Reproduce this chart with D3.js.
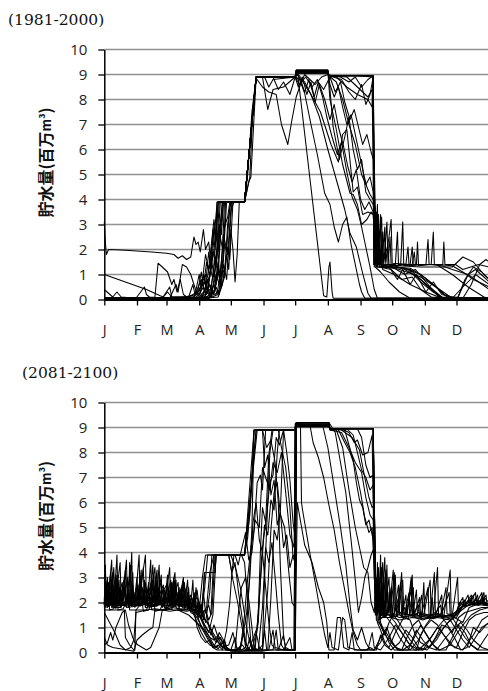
<!DOCTYPE html>
<html><head><meta charset="utf-8">
<script src="https://cdn.jsdelivr.net/npm/d3@7"></script>
<style>body{margin:0;background:#fff}</style>
</head><body><svg id="c" width="488" height="691"></svg>
<script>
const months = ["J","F","M","A","M","J","J","A","S","O","N","D"];
const monthStartDays = [0,31,59,90,120,151,181,212,243,273,304,334];
const yTicks = [0,1,2,3,4,5,6,7,8,9,10];
const panelTitles = ["(1981-2000)","(2081-2100)"];
const yLabelMain = "貯水量(百万";
const yLabelUnit = "m³";

// ---- 1981-2000: [day of year, storage (million m3)] ----
const t01 = [[0,3.1],[1,2.3],[2,1.8],[4,2.0],[20,1.97],[45,1.9],[59,1.85],[66,1.8],[70,1.65],[74,1.75],[78,1.6],[82,1.7],[85,2.5],[87,2.2],[89,2.3],[91,1.9],[94,2.8],[96,2.0],[99,2.3],[101,1.5],[104,2.9],[106,2.6],[108,3.9],[133,3.9],[136,5.0],[140,7.5],[144,8.9],[181,8.9],[182,9.1],[212,9.1],[213,8.95],[255,8.95],[256,5.0],[257,1.5],[259,3.8],[260,1.6],[262,3.4],[263,1.5],[266,2.9],[267,1.5],[272,3.2],[273,1.45],[290,1.4],[292,2.1],[293,1.4],[315,1.4],[330,1.35],[340,1.1],[350,0.8],[365,0.5]];
const t02 = [[0,1.0],[20,0.7],[40,0.4],[53,0.15],[56,0.1],[60,0.3],[64,0.1],[80,0.1],[88,0.3],[92,0.1],[98,0.5],[100,0.2],[104,1.2],[106,0.6],[110,2.5],[113,1.8],[116,3.9],[133,3.9],[144,8.9],[150,8.9],[155,7.6],[160,8.4],[170,8.5],[181,8.9],[182,9.05],[212,9.05],[213,8.95],[240,8.95],[255,8.9],[256,1.4],[258,2.5],[259,1.3],[275,1.3],[290,1.2],[300,0.8],[320,0.1],[365,0.05]];
const t03 = [[0,0.4],[4,0.25],[8,0.1],[12,0.3],[16,0.1],[30,0.05],[38,0.5],[40,0.2],[44,0.05],[62,0.05],[68,0.6],[70,0.3],[74,1.4],[78,1.3],[82,1.0],[85,0.6],[88,0.2],[92,0.6],[96,1.0],[98,0.3],[102,0.1],[108,0.2],[112,1.2],[114,2.9],[117,3.3],[119,3.9],[133,3.9],[137,4.7],[139,4.9],[144,8.9],[181,8.9],[184,9.0],[190,8.7],[196,8.2],[205,7.5],[215,6.2],[222,5.5],[226,6.6],[230,6.8],[236,4.3],[240,4.5],[245,3.4],[250,3.5],[255,3.4],[258,1.3],[262,1.8],[264,1.2],[275,1.0],[290,0.6],[305,0.3],[320,0.05],[365,0.05]];
const t04 = [[0,0.05],[30,0.05],[48,0.1],[51,1.45],[55,1.3],[60,1.1],[64,0.6],[66,0.8],[69,0.3],[72,0.8],[75,0.2],[80,0.05],[95,0.1],[100,0.4],[104,0.3],[108,1.5],[110,0.9],[113,2.6],[116,2.0],[119,3.7],[121,3.9],[133,3.9],[144,8.85],[150,8.5],[156,8.3],[163,8.2],[168,7.0],[174,6.2],[178,7.2],[182,8.1],[186,8.6],[190,9.0],[200,8.6],[206,8.9],[212,9.0],[220,8.9],[230,8.5],[240,8.2],[250,8.0],[254,7.7],[255,8.9],[256,1.4],[260,2.2],[261,1.4],[280,1.35],[300,1.3],[330,1.3],[340,1.7],[350,1.5],[360,1.0],[365,0.8]];
const t05 = [[0,0.05],[40,0.05],[85,0.1],[92,0.8],[95,0.3],[100,1.4],[103,0.8],[106,2.6],[108,1.9],[112,3.9],[133,3.9],[144,8.9],[181,8.9],[184,8.8],[208,0.15],[211,0.1],[213,1.3],[214,1.5],[216,0.3],[217,0.05],[255,0.05],[365,0.05]];
const t06 = [[0,0.05],[60,0.05],[80,0.1],[84,0.6],[86,0.2],[90,1.0],[92,0.4],[96,1.8],[99,1.2],[102,2.4],[104,3.2],[106,2.4],[108,3.9],[133,3.9],[144,8.9],[181,8.9],[182,9.15],[186,8.7],[190,8.25],[196,7.0],[202,5.8],[209,4.25],[214,3.8],[218,2.9],[222,2.3],[226,3.0],[230,3.3],[234,2.2],[238,1.4],[242,0.6],[244,0.3],[247,0.05],[365,0.05]];
const t07 = [[0,0.05],[70,0.05],[88,0.2],[92,1.1],[94,0.5],[97,1.5],[100,0.9],[103,2.8],[105,2.0],[107,3.9],[133,3.9],[144,8.9],[181,8.9],[182,9.1],[212,9.1],[214,8.0],[220,6.8],[226,5.4],[233,4.25],[236,4.2],[240,3.8],[244,3.0],[249,3.2],[253,3.5],[256,3.4],[258,1.5],[260,2.8],[261,1.4],[280,1.2],[300,0.9],[318,0.4],[330,0.05],[365,0.05]];
const t08 = [[0,0.05],[75,0.05],[90,0.1],[96,0.4],[100,1.0],[103,1.9],[106,1.4],[109,3.0],[111,2.6],[113,3.9],[133,3.9],[144,8.9],[181,8.9],[183,9.0],[190,8.6],[196,8.2],[204,7.3],[212,6.0],[220,4.8],[228,3.6],[233,2.65],[239,2.1],[245,1.05],[250,0.25],[253,0.05],[365,0.05]];
const t09 = [[0,0.05],[80,0.05],[95,0.1],[100,0.6],[104,0.2],[108,1.1],[111,0.5],[114,2.2],[117,1.8],[120,3.6],[123,3.9],[133,3.9],[144,8.9],[181,8.9],[182,9.18],[212,9.18],[213,8.9],[217,6.9],[223,5.6],[228,6.5],[232,7.3],[236,6.0],[240,5.2],[244,5.6],[248,4.3],[252,4.0],[255,3.8],[257,2.9],[258,1.4],[262,2.0],[263,1.3],[285,1.25],[300,1.0],[315,0.5],[325,0.1],[365,0.05]];
const t10 = [[0,0.05],[85,0.05],[100,0.1],[105,0.4],[108,1.2],[110,0.6],[113,1.8],[115,3.9],[133,3.9],[144,8.9],[181,8.9],[182,9.05],[212,9.05],[213,8.95],[225,8.8],[232,8.3],[238,8.0],[244,8.6],[248,7.8],[252,8.2],[255,8.9],[256,5.0],[257,1.45],[258,3.5],[259,1.4],[263,3.3],[264,1.4],[269,2.2],[270,1.4],[281,1.35],[283,3.1],[284,1.35],[296,1.4],[297,2.3],[298,1.35],[310,1.4],[312,2.7],[313,1.4],[321,1.4],[322,2.3],[323,1.4],[333,1.4],[340,1.2],[355,1.4],[365,1.3]];
const t11 = [[0,0.05],[90,0.05],[105,0.2],[110,0.4],[114,0.9],[117,2.1],[119,1.6],[122,3.9],[133,3.9],[144,8.9],[181,8.9],[182,9.12],[212,9.12],[213,8.95],[220,8.7],[226,8.0],[232,7.0],[238,6.2],[244,5.0],[248,4.6],[252,4.9],[255,4.3],[257,1.4],[258,2.6],[259,1.3],[275,1.25],[285,1.0],[295,1.2],[305,0.7],[315,0.2],[320,0.05],[365,0.05]];
const t12 = [[0,0.05],[95,0.05],[108,0.1],[112,0.6],[116,1.8],[118,1.2],[120,2.8],[122,2.0],[124,0.7],[126,1.8],[128,3.9],[133,3.9],[144,8.9],[181,8.9],[182,9.15],[212,9.15],[213,8.95],[255,8.95],[256,1.4],[259,3.0],[260,1.4],[266,2.5],[267,1.4],[276,1.4],[278,2.7],[279,1.4],[292,1.4],[294,1.9],[295,1.4],[315,1.4],[330,1.0],[345,0.5],[360,0.1],[365,0.05]];
const t13 = [[0,0.05],[55,0.05],[62,0.5],[64,0.1],[85,0.1],[95,0.7],[98,0.3],[102,1.5],[104,0.9],[108,2.2],[110,3.0],[112,3.9],[133,3.9],[138,4.9],[141,7.7],[144,8.9],[181,8.9],[182,9.08],[212,9.08],[213,8.95],[255,8.95],[256,1.4],[258,3.3],[259,1.4],[262,3.0],[263,1.4],[275,1.35],[285,1.2],[300,0.8],[310,0.4],[320,0.05],[335,0.05],[345,1.0],[352,1.2],[360,0.9],[365,0.7]];
const t14 = [[0,0.05],[100,0.05],[106,0.5],[109,0.2],[113,1.4],[116,0.8],[119,2.7],[121,3.9],[133,3.9],[144,8.9],[181,8.9],[182,9.18],[212,9.18],[213,8.95],[255,8.95],[256,1.4],[261,2.7],[262,1.4],[270,1.3],[278,0.8],[283,1.2],[290,0.6],[296,1.0],[305,0.3],[312,0.7],[320,0.2],[335,0.05],[342,0.8],[350,1.3],[358,1.1],[365,0.8]];
const t15 = [[0,0.05],[92,0.05],[97,0.3],[101,0.1],[104,0.8],[107,1.7],[110,3.9],[133,3.9],[144,8.9],[181,8.9],[182,9.1],[212,9.1],[213,8.95],[230,8.9],[240,8.5],[250,8.1],[254,8.4],[256,1.3],[257,3.7],[258,1.4],[260,3.4],[261,1.35],[264,2.7],[265,1.4],[268,3.1],[269,1.4],[271,2.5],[272,1.35],[286,1.4],[288,2.1],[289,1.35],[305,1.4],[307,2.4],[308,1.4],[320,1.35],[330,1.2],[345,1.0],[365,0.4]];
const t16 = [[0,0.05],[88,0.05],[94,0.5],[97,0.2],[101,1.2],[104,2.0],[106,1.5],[109,3.9],[133,3.9],[144,8.9],[160,8.9],[165,8.4],[170,8.7],[176,8.2],[181,8.9],[184,8.5],[188,8.9],[192,8.2],[196,8.7],[200,7.9],[204,8.6],[209,8.0],[214,7.2],[218,7.8],[222,6.9],[227,6.1],[231,5.3],[235,4.7],[239,5.2],[243,4.0],[247,3.6],[251,3.9],[255,3.5],[257,1.3],[262,1.1],[270,0.7],[280,0.3],[290,0.05],[365,0.05]];
const t17 = [[0,0.05],[96,0.05],[102,0.3],[106,1.0],[109,0.6],[112,2.0],[114,3.9],[133,3.9],[144,8.9],[181,8.9],[186,8.8],[190,8.3],[194,8.8],[199,8.1],[203,8.7],[208,8.4],[214,8.9],[219,8.3],[224,8.7],[228,7.9],[233,7.2],[237,7.6],[241,6.9],[245,6.2],[249,6.6],[253,5.9],[256,5.5],[258,1.4],[260,2.6],[261,1.3],[272,1.2],[282,0.8],[292,0.9],[300,0.4],[310,0.1],[330,0.05],[340,0.5],[352,1.0],[365,0.6]];
const t18 = [[0,0.05],[84,0.05],[90,0.4],[93,0.1],[98,0.8],[101,0.4],[105,1.6],[108,1.0],[111,3.1],[113,3.9],[133,3.9],[144,8.9],[181,8.9],[185,8.6],[191,8.9],[197,8.5],[202,8.8],[207,8.1],[211,7.3],[216,6.5],[221,5.8],[225,6.3],[230,5.1],[235,4.1],[240,3.6],[244,2.9],[248,2.1],[252,1.3],[256,0.4],[259,0.05],[365,0.05]];
const t19 = [[0,0.05],[99,0.05],[104,0.6],[107,0.2],[111,1.4],[114,1.0],[117,3.0],[120,3.9],[133,3.9],[144,8.9],[152,8.9],[156,8.5],[160,8.8],[181,8.9],[182,9.06],[212,9.06],[214,8.6],[218,8.1],[222,8.5],[226,7.7],[230,7.0],[234,7.4],[238,6.6],[242,5.8],[246,5.0],[249,4.5],[252,4.2],[255,4.0],[257,1.4],[259,3.4],[260,1.4],[275,1.3],[290,1.25],[300,1.0],[312,0.6],[322,0.2],[330,0.05],[365,0.05]];
const t20 = [[0,0.05],[86,0.05],[91,0.3],[94,1.0],[96,0.6],[99,1.9],[101,1.2],[104,2.4],[107,3.9],[133,3.9],[144,8.9],[181,8.9],[182,9.16],[212,9.16],[213,8.95],[224,8.9],[232,8.7],[238,8.9],[244,8.5],[250,8.8],[255,8.95],[256,1.4],[258,2.1],[259,1.35],[268,1.3],[278,1.3],[288,1.2],[300,0.7],[312,0.3],[322,0.05],[340,0.05],[348,0.6],[356,1.4],[362,1.6],[365,1.5]];

// ---- 2081-2100 ----
const b01 = [[0,2.0],[1,3.5],[2,1.9],[4,2.8],[5,1.9],[8,2.4],[9,1.85],[12,3.9],[13,1.9],[16,2.5],[17,1.9],[20,3.3],[21,1.9],[24,2.2],[26,4.0],[27,1.9],[30,2.4],[31,1.85],[35,2.9],[36,1.9],[40,2.6],[41,1.9],[44,3.7],[45,1.95],[48,2.4],[49,1.9],[52,3.5],[53,2.0],[56,2.6],[57,1.9],[60,3.1],[61,2.0],[64,2.7],[65,1.9],[68,2.9],[69,1.95],[72,2.5],[73,1.9],[76,2.8],[77,1.9],[80,2.3],[82,1.9],[84,2.9],[85,1.8],[88,2.5],[90,1.8],[93,1.6],[95,3.2],[105,3.2],[106,3.9],[133,3.9],[145,8.9],[181,8.9],[182,9.1],[213,9.1],[214,8.95],[255,8.95],[257,3.2],[258,1.5],[259,3.6],[260,1.6],[262,3.9],[263,1.5],[265,3.0],[266,1.4],[268,3.5],[269,1.5],[272,2.6],[273,1.4],[276,3.1],[277,1.5],[281,2.8],[282,1.4],[286,2.3],[287,1.5],[291,3.0],[292,1.4],[296,2.5],[297,1.5],[301,1.4],[303,2.8],[304,1.5],[309,1.4],[311,2.2],[312,1.5],[316,3.4],[317,1.5],[322,1.45],[328,3.3],[329,1.5],[334,1.5],[336,1.9],[340,2.2],[341,1.9],[346,2.0],[350,2.3],[351,1.9],[356,2.0],[360,2.4],[361,1.9],[365,1.95]];
const b02 = [[0,1.8],[2,2.6],[3,1.8],[6,3.2],[7,1.8],[10,2.3],[11,1.75],[14,2.9],[15,1.8],[18,2.1],[22,3.0],[23,1.8],[28,2.4],[29,1.8],[33,3.9],[34,1.85],[38,2.3],[39,1.8],[42,2.8],[43,1.8],[47,3.1],[48,1.85],[51,2.2],[54,2.9],[55,1.8],[58,2.1],[62,3.4],[63,1.85],[66,2.3],[70,2.8],[71,1.8],[74,2.2],[78,2.6],[79,1.75],[83,2.2],[86,1.6],[89,1.9],[92,1.5],[96,1.3],[100,1.0],[104,0.6],[108,0.4],[112,0.2],[118,0.1],[125,0.1],[131,0.3],[134,0.1],[150,0.1],[152,0.9],[154,0.1],[165,0.1],[170,0.7],[172,0.1],[180,0.1],[181,9.15],[213,9.15],[214,8.9],[225,8.8],[232,8.2],[238,7.6],[244,7.2],[248,6.2],[252,5.5],[255,5.3],[257,3.1],[258,1.6],[260,3.3],[261,1.5],[264,2.4],[265,1.5],[270,3.0],[271,1.4],[275,1.6],[279,2.7],[280,1.5],[284,1.4],[289,2.4],[290,1.45],[294,1.5],[299,2.2],[300,1.45],[306,1.5],[314,1.45],[320,2.3],[321,1.4],[326,1.5],[332,1.45],[337,1.9],[342,2.1],[343,1.85],[348,1.9],[353,2.2],[354,1.9],[358,2.0],[362,2.3],[363,1.9],[365,1.9]];
const b03 = [[0,1.9],[1,2.9],[2,1.9],[5,2.4],[6,1.9],[9,3.4],[10,1.9],[13,2.2],[17,2.8],[18,1.9],[21,2.0],[25,3.5],[26,1.9],[29,2.2],[32,2.7],[33,1.9],[37,3.4],[38,1.95],[41,2.2],[45,2.9],[46,1.9],[50,3.3],[51,1.9],[55,2.4],[59,2.7],[60,1.9],[63,2.3],[67,3.2],[68,1.9],[71,2.6],[72,1.9],[75,2.9],[76,1.8],[79,2.4],[81,1.7],[85,1.9],[88,1.8],[91,1.75],[94,1.4],[98,1.2],[103,0.8],[107,0.5],[110,0.3],[115,0.15],[120,0.1],[124,0.6],[126,0.1],[129,0.1],[133,1.5],[136,3.0],[139,4.2],[142,4.9],[145,6.8],[148,7.1],[150,6.5],[153,8.9],[165,8.9],[168,8.2],[172,7.4],[176,5.8],[179,3.8],[181,3.6],[182,9.05],[213,9.05],[214,8.95],[255,8.95],[257,3.2],[258,2.0],[260,3.4],[261,1.6],[263,2.8],[264,1.7],[267,3.3],[268,1.6],[272,1.8],[275,3.2],[276,1.7],[279,1.6],[283,2.9],[284,1.6],[289,1.5],[293,2.6],[294,1.5],[298,1.6],[303,1.5],[309,2.9],[310,1.5],[314,1.6],[319,1.5],[324,2.6],[325,1.55],[330,1.5],[335,3.0],[336,1.6],[340,1.9],[345,2.3],[346,1.9],[352,2.1],[356,1.95],[360,2.2],[365,2.0]];
const b04 = [[0,2.1],[3,3.0],[4,2.0],[7,2.5],[8,2.0],[11,2.2],[15,3.6],[16,2.0],[19,2.6],[20,2.0],[23,2.5],[24,2.0],[27,3.2],[28,2.0],[31,2.1],[34,3.0],[35,2.0],[39,2.8],[40,2.0],[43,2.3],[46,2.6],[47,2.0],[49,3.0],[50,2.0],[53,2.4],[57,2.5],[58,2.0],[61,2.3],[64,2.8],[65,2.0],[69,2.4],[70,2.0],[73,2.6],[74,2.0],[77,2.5],[78,1.9],[81,2.2],[83,1.9],[86,2.4],[87,1.8],[90,2.0],[92,1.7],[94,2.4],[96,1.6],[99,1.9],[101,1.5],[104,3.9],[133,3.9],[138,5.5],[141,7.5],[144,8.9],[181,8.9],[182,9.2],[213,9.2],[214,8.95],[225,8.9],[235,8.6],[242,8.1],[247,7.0],[251,6.2],[254,5.8],[256,5.9],[258,1.5],[261,2.8],[262,1.4],[266,3.8],[267,1.4],[271,2.1],[272,1.4],[278,1.45],[282,3.2],[283,1.4],[288,1.35],[293,2.0],[294,1.4],[302,1.3],[308,1.4],[312,1.35],[318,1.45],[326,1.4],[334,1.5],[338,1.8],[344,1.95],[348,2.2],[349,1.9],[355,1.9],[359,2.3],[360,1.9],[365,1.85]];
const b05 = [[0,1.75],[4,2.3],[5,1.7],[9,1.75],[12,2.6],[13,1.7],[18,1.75],[23,2.3],[24,1.7],[30,1.7],[36,2.0],[37,1.65],[42,1.7],[47,2.2],[48,1.65],[53,1.7],[58,2.3],[59,1.7],[64,1.75],[70,2.2],[71,1.7],[76,1.75],[80,2.0],[82,1.6],[86,1.5],[88,1.0],[92,0.6],[96,0.4],[100,0.5],[104,0.2],[108,0.3],[112,0.1],[120,0.1],[128,0.05],[140,0.1],[144,0.8],[147,0.2],[150,0.1],[155,2.5],[158,4.9],[161,6.4],[164,6.8],[167,5.5],[171,5.0],[175,3.2],[178,2.0],[181,1.8],[182,9.12],[213,9.12],[214,8.95],[225,8.95],[232,8.8],[237,8.4],[240,8.5],[245,7.9],[250,8.0],[254,8.7],[256,3.0],[257,2.5],[259,1.2],[262,0.9],[266,0.4],[270,0.2],[276,0.8],[280,1.1],[284,1.4],[290,1.3],[295,0.7],[300,0.4],[308,0.2],[314,0.6],[320,1.1],[326,1.0],[332,0.6],[338,0.1],[344,0.2],[350,1.0],[356,0.8],[362,1.1],[365,1.2]];
const b06 = [[0,1.7],[19,1.7],[20,0.6],[24,0.3],[28,0.1],[29,0.1],[30,1.7],[40,1.7],[44,2.2],[45,1.7],[55,1.7],[60,1.8],[65,2.0],[70,1.7],[75,1.6],[80,1.5],[85,1.3],[90,1.1],[95,0.9],[100,0.6],[104,0.3],[108,0.15],[114,0.5],[116,0.2],[120,0.1],[128,0.1],[132,0.8],[134,0.2],[137,0.1],[145,1.0],[148,2.8],[151,4.5],[154,5.5],[157,6.8],[160,7.1],[163,8.6],[166,8.3],[170,8.9],[181,8.9],[182,9.08],[213,9.08],[214,8.95],[255,8.95],[257,1.6],[260,2.8],[261,1.6],[270,1.5],[276,1.2],[282,0.8],[288,0.4],[294,0.1],[302,0.1],[310,0.6],[316,1.0],[322,1.3],[330,1.4],[336,1.0],[342,0.6],[348,0.3],[355,0.1],[365,0.1]];
const b07 = [[0,0.6],[3,0.3],[8,0.2],[15,0.15],[22,0.1],[28,0.05],[31,0.5],[36,0.7],[42,0.9],[46,1.0],[48,1.7],[56,1.7],[60,1.75],[66,1.7],[72,1.7],[78,1.7],[82,1.8],[86,1.6],[90,1.5],[94,1.2],[98,0.9],[102,0.7],[106,0.4],[110,0.6],[114,0.3],[118,0.1],[135,0.1],[138,0.6],[140,0.1],[146,0.1],[150,0.3],[152,3.0],[155,6.0],[157,8.0],[160,8.9],[181,8.9],[182,9.18],[213,9.18],[214,8.95],[255,8.95],[257,2.8],[258,1.7],[262,1.5],[268,1.4],[275,1.0],[280,0.6],[285,0.3],[290,0.1],[296,0.1],[300,0.7],[305,1.1],[310,1.4],[318,1.5],[324,1.2],[330,0.8],[336,1.4],[342,1.6],[350,1.7],[358,1.8],[365,1.8]];
const b08 = [[0,0.3],[3,0.4],[6,0.8],[8,0.5],[11,1.0],[14,1.3],[17,1.6],[20,1.7],[23,1.1],[27,0.6],[29,0.4],[32,0.3],[36,0.2],[40,0.1],[44,0.2],[48,0.6],[52,1.0],[55,1.7],[62,1.65],[70,1.7],[78,1.65],[84,1.7],[88,1.5],[92,1.0],[96,0.7],[100,0.4],[103,0.2],[106,0.4],[109,0.8],[113,0.5],[116,0.2],[120,0.05],[150,0.05],[156,0.1],[160,0.9],[162,0.2],[170,0.1],[176,0.6],[178,0.1],[181,0.1],[183,6.0],[190,4.3],[197,3.6],[203,2.6],[208,2.0],[211,1.2],[213,0.1],[218,0.1],[221,1.4],[224,1.4],[227,0.2],[232,0.1],[235,0.8],[237,0.1],[248,0.1],[252,0.2],[256,0.1],[262,0.4],[266,0.9],[270,0.6],[276,0.2],[283,0.1],[290,0.3],[296,0.9],[302,0.5],[308,0.2],[315,0.1],[322,0.5],[330,0.9],[338,1.2],[344,0.9],[350,0.5],[358,0.2],[365,0.1]];
const b09 = [[0,1.9],[3,2.9],[4,1.9],[10,2.0],[14,2.6],[15,1.9],[25,1.95],[28,2.4],[29,1.9],[38,2.0],[42,2.6],[43,1.9],[53,1.95],[61,2.6],[62,1.9],[70,2.0],[74,2.7],[75,1.9],[82,1.8],[86,2.2],[88,1.7],[92,1.4],[95,3.2],[105,3.2],[106,3.9],[120,3.9],[125,3.3],[129,2.6],[132,1.8],[135,1.0],[138,0.4],[141,0.1],[160,0.1],[163,0.9],[165,0.1],[181,0.1],[182,9.1],[213,9.1],[214,8.9],[220,8.9],[226,8.2],[232,6.5],[238,5.0],[242,4.2],[246,3.4],[250,3.2],[253,2.0],[256,1.6],[258,3.0],[259,1.5],[263,3.4],[264,1.5],[268,1.5],[272,2.5],[273,1.5],[280,1.4],[287,1.45],[292,3.1],[293,1.45],[300,1.4],[307,2.6],[308,1.4],[315,1.45],[322,1.4],[328,1.5],[334,1.4],[340,1.85],[346,1.9],[352,2.4],[353,1.9],[365,1.9]];
const b10 = [[0,1.85],[2,2.4],[3,1.85],[7,3.7],[8,1.85],[14,1.9],[19,3.0],[20,1.85],[28,1.9],[31,3.0],[32,1.85],[39,3.9],[40,1.9],[50,1.85],[54,3.1],[55,1.85],[62,1.9],[66,2.4],[67,1.85],[76,1.9],[79,2.9],[80,1.85],[86,1.9],[89,1.4],[92,1.9],[96,1.2],[100,2.4],[102,3.9],[124,3.9],[127,3.5],[130,4.1],[134,4.8],[137,3.7],[140,4.0],[143,5.3],[147,5.0],[150,7.4],[153,7.0],[157,6.5],[160,7.6],[164,7.2],[168,8.0],[172,6.4],[176,4.7],[180,4.2],[181,8.9],[182,9.02],[213,9.02],[214,8.95],[255,8.95],[257,3.3],[258,1.8],[260,3.0],[261,1.7],[264,3.6],[265,1.6],[269,2.4],[270,1.6],[274,3.3],[275,1.55],[279,2.2],[280,1.6],[286,1.55],[291,2.5],[292,1.6],[297,1.5],[301,2.3],[302,1.55],[309,1.5],[313,3.2],[314,1.5],[320,1.55],[327,2.4],[328,1.5],[333,1.6],[338,1.9],[343,1.95],[348,2.3],[349,1.9],[357,2.1],[365,1.9]];
const b11 = [[0,2.0],[5,2.8],[6,2.0],[11,3.1],[12,2.0],[18,2.2],[22,2.9],[23,2.0],[30,2.1],[36,2.6],[37,2.0],[43,2.2],[48,3.4],[49,2.0],[57,2.1],[60,2.8],[61,2.0],[68,2.1],[72,2.4],[73,2.0],[80,2.0],[84,1.6],[88,1.2],[92,0.8],[96,0.5],[100,0.3],[106,0.2],[112,0.4],[115,0.1],[125,0.05],[130,0.3],[135,1.6],[138,3.0],[141,5.2],[144,6.0],[147,4.5],[150,4.0],[153,2.6],[156,1.2],[159,0.3],[163,0.1],[181,0.1],[182,9.15],[186,9.15],[187,6.0],[188,5.7],[194,4.2],[200,2.8],[205,1.6],[209,0.7],[212,0.2],[214,0.8],[216,0.2],[222,0.1],[226,1.4],[228,1.3],[231,0.2],[240,0.1],[250,0.1],[256,0.1],[262,0.6],[268,1.0],[272,0.5],[278,0.1],[288,0.1],[294,0.6],[300,1.1],[306,0.7],[312,0.3],[318,0.1],[328,0.3],[335,0.8],[342,1.2],[348,1.5],[356,1.7],[365,1.8]];
const b12 = [[0,1.95],[9,2.0],[12,3.0],[13,1.95],[24,2.0],[27,2.7],[28,1.95],[35,1.9],[47,2.0],[50,2.9],[51,1.95],[63,2.0],[66,3.0],[67,1.95],[78,1.9],[82,1.7],[85,2.3],[87,1.6],[92,1.7],[95,2.5],[98,3.9],[133,3.9],[140,7.0],[144,8.9],[181,8.9],[182,9.1],[207,9.1],[212,8.2],[218,6.6],[224,5.0],[229,3.5],[233,1.9],[236,0.9],[240,0.5],[244,1.0],[248,0.4],[252,0.1],[258,0.1],[262,0.7],[266,0.3],[272,0.1],[280,0.4],[286,0.9],[292,0.6],[298,0.2],[306,0.1],[315,0.5],[322,1.0],[328,1.3],[334,0.9],[340,0.5],[346,0.2],[352,0.6],[358,1.0],[365,1.2]];
const b13 = [[0,1.85],[6,1.9],[9,2.6],[10,1.85],[20,1.9],[25,2.4],[26,1.85],[34,1.9],[40,2.2],[41,1.85],[52,1.9],[56,2.2],[57,1.85],[66,1.9],[71,2.3],[72,1.85],[82,1.8],[86,1.9],[90,1.7],[93,3.0],[96,3.9],[133,3.9],[142,8.9],[181,8.9],[182,9.2],[213,9.2],[219,8.8],[224,7.6],[229,6.4],[234,4.5],[238,2.9],[241,1.6],[244,2.2],[247,3.0],[250,3.4],[253,3.9],[256,4.2],[258,2.5],[260,1.3],[264,0.9],[268,0.6],[274,0.3],[280,0.1],[290,0.1],[298,0.5],[304,1.0],[310,1.3],[316,1.1],[322,0.7],[328,0.3],[334,0.2],[340,0.8],[346,1.3],[352,1.5],[360,1.6],[365,1.6]];
const b14 = [[0,2.0],[4,2.1],[8,3.2],[9,2.0],[17,2.1],[21,3.7],[22,2.0],[32,2.0],[35,3.3],[36,2.0],[44,2.1],[52,2.6],[53,2.0],[59,2.1],[63,2.9],[64,2.0],[71,2.05],[75,3.0],[76,2.0],[82,2.0],[85,1.8],[87,2.6],[89,1.6],[92,1.9],[94,1.3],[96,1.7],[99,1.1],[101,0.7],[104,1.1],[108,0.6],[112,0.2],[118,0.3],[122,0.8],[125,0.2],[130,0.1],[134,0.2],[137,2.5],[140,5.0],[142,8.9],[150,8.9],[154,8.2],[158,8.5],[162,7.6],[165,6.0],[167,3.4],[170,0.6],[172,0.2],[176,0.1],[180,0.1],[181,9.05],[213,9.05],[214,8.95],[230,8.95],[236,8.7],[240,8.0],[244,7.3],[248,7.0],[252,6.5],[255,6.7],[257,2.8],[258,1.3],[262,1.1],[266,0.7],[270,1.2],[274,1.5],[278,1.3],[284,0.9],[290,0.5],[296,0.2],[302,0.1],[310,0.3],[318,0.8],[326,1.2],[332,1.4],[340,1.2],[346,1.8],[352,1.9],[358,2.4],[359,1.9],[365,1.95]];
const b15 = [[0,2.2],[2,2.0],[6,2.2],[10,2.0],[13,2.9],[14,2.1],[19,2.0],[24,2.3],[27,2.0],[33,2.2],[37,2.0],[43,2.2],[46,3.5],[47,2.1],[54,2.0],[60,2.2],[64,2.0],[67,2.9],[68,2.0],[73,2.1],[78,2.0],[82,2.3],[84,2.0],[88,2.2],[91,1.9],[94,1.6],[97,1.8],[100,3.2],[104,3.9],[118,3.9],[122,2.9],[126,2.1],[129,1.4],[132,0.7],[135,0.3],[138,0.1],[142,0.1],[146,1.2],[149,3.7],[152,5.1],[155,4.7],[158,6.1],[161,5.7],[164,8.0],[166,8.9],[181,8.9],[182,9.14],[213,9.14],[214,8.95],[222,8.9],[228,8.4],[233,8.0],[238,7.4],[243,6.4],[247,5.4],[251,4.8],[254,5.0],[256,3.2],[257,1.8],[260,2.3],[261,1.3],[266,1.5],[271,2.0],[272,1.4],[279,1.5],[285,1.8],[286,1.4],[293,1.55],[298,1.9],[299,1.45],[306,1.4],[313,1.5],[319,1.9],[320,1.5],[327,1.45],[333,1.5],[337,2.0],[341,1.9],[346,2.1],[350,1.95],[354,2.3],[355,1.9],[361,2.0],[365,1.9]];
const b16 = [[0,1.6],[5,1.2],[10,0.8],[15,0.3],[20,0.1],[25,0.2],[28,0.5],[30,1.6],[40,1.7],[48,1.75],[56,1.7],[64,1.8],[72,1.75],[80,1.7],[85,1.6],[89,1.3],[93,1.0],[97,0.7],[100,0.5],[103,0.2],[107,0.1],[112,0.1],[116,0.9],[119,2.0],[121,3.2],[123,3.9],[130,3.9],[133,3.6],[136,2.0],[139,0.4],[142,0.1],[155,0.1],[158,2.2],[161,4.9],[164,4.5],[167,5.7],[170,8.9],[181,8.9],[182,9.1],[213,9.1],[214,8.95],[255,8.95],[257,1.5],[260,2.0],[262,1.2],[266,0.8],[270,0.4],[275,0.1],[282,0.1],[288,0.7],[293,1.1],[298,1.3],[304,0.8],[310,0.4],[316,0.1],[324,0.1],[330,0.6],[336,1.1],[342,0.8],[348,0.3],[354,0.1],[360,0.5],[365,0.8]];
const b17 = [[0,1.9],[3,2.3],[4,1.9],[12,1.95],[15,2.6],[16,1.9],[27,2.0],[34,2.5],[35,1.9],[44,2.0],[49,2.3],[50,1.9],[59,2.0],[64,2.5],[65,1.9],[76,1.95],[81,2.2],[83,1.8],[88,1.6],[92,1.3],[96,0.9],[100,0.6],[104,0.5],[108,0.7],[112,0.4],[116,0.1],[124,0.1],[127,1.5],[130,2.6],[134,3.0],[137,2.1],[140,1.0],[142,0.2],[146,0.1],[150,1.8],[153,4.2],[156,3.6],[159,4.4],[162,3.0],[165,1.5],[168,0.3],[171,0.1],[181,0.1],[182,9.04],[213,9.04],[214,8.95],[240,8.95],[244,8.6],[248,7.5],[252,7.0],[255,7.1],[257,3.0],[258,1.6],[260,2.5],[261,1.5],[270,1.5],[280,1.55],[290,1.5],[300,1.45],[310,1.4],[320,1.45],[330,1.5],[338,1.8],[346,1.9],[356,2.0],[365,1.9]];
const b18 = [[0,1.8],[5,1.85],[7,2.9],[8,1.8],[16,1.8],[20,2.5],[21,1.8],[30,1.85],[38,2.4],[39,1.8],[48,1.85],[56,2.7],[57,1.8],[67,1.85],[73,2.5],[74,1.8],[82,1.75],[87,1.7],[91,1.5],[95,1.1],[99,0.8],[103,1.5],[106,3.9],[118,3.9],[121,3.2],[124,3.6],[127,2.5],[131,1.3],[134,0.4],[137,0.1],[143,0.1],[146,1.6],[148,4.0],[150,5.8],[153,5.2],[156,7.9],[159,8.9],[170,8.9],[173,8.0],[176,6.9],[179,5.2],[181,4.6],[182,9.1],[195,9.1],[198,8.4],[203,7.8],[208,7.0],[213,5.9],[218,4.9],[223,3.6],[228,2.5],[232,1.6],[236,0.8],[240,0.3],[243,0.1],[250,0.1],[254,0.8],[256,0.2],[262,0.1],[270,0.6],[276,1.1],[282,0.8],[290,0.3],[298,0.1],[308,0.5],[316,1.0],[324,0.6],[332,0.2],[340,0.1],[350,0.7],[358,1.3],[365,1.5]];
const b19 = [[0,1.9],[1,2.7],[2,1.9],[10,1.9],[11,3.1],[12,1.9],[23,1.9],[24,3.6],[25,1.9],[37,1.9],[38,2.9],[39,1.9],[51,1.9],[52,3.0],[53,1.9],[65,1.9],[66,2.8],[67,1.9],[79,1.9],[80,2.6],[81,1.85],[88,1.8],[92,1.6],[96,1.7],[99,1.3],[102,1.6],[105,3.9],[133,3.9],[136,4.6],[139,6.3],[142,8.9],[150,8.9],[152,7.4],[155,7.9],[158,6.3],[161,6.9],[164,5.1],[167,5.6],[170,4.2],[173,4.7],[176,3.4],[179,3.9],[181,3.7],[182,9.2],[213,9.2],[214,8.95],[228,8.9],[232,8.3],[236,7.7],[239,6.8],[242,6.1],[245,5.8],[248,5.1],[251,5.3],[254,4.7],[256,4.4],[258,1.5],[261,2.2],[262,1.4],[272,1.4],[280,1.3],[292,1.4],[304,1.35],[316,1.4],[328,1.3],[336,1.6],[345,1.9],[355,2.0],[365,1.95]];

const seriesEarly = [t01,t02,t03,t04,t05,t06,t07,t08,t09,t10,t11,t12,t13,t14,t15,t16,t17,t18,t19,t20];
const seriesLate = [b01,b02,b03,b04,b05,b06,b07,b08,b09,b10,b11,b12,b13,b14,b15,b16,b17,b18,b19];

// ---- drawing ----
const svg = d3.select("#c");
const W = 488;
const x = d3.scaleLinear().domain([0,365]).range([104.3, 489.2]);
const panels = [
  {title: panelTitles[0], tx: 8,  ty: 25,  top: 49.5,  bottom: 299.5, labelCy: 162.5, series: seriesEarly},
  {title: panelTitles[1], tx: 22, ty: 378, top: 402.5, bottom: 652.5, labelCy: 516,   series: seriesLate}
];

panels.forEach(p => {
  const y = d3.scaleLinear().domain([0,10]).range([p.bottom, p.top]);
  const g = svg.append("g");

  g.append("text").attr("x", p.tx).attr("y", p.ty)
    .attr("font-family", "DejaVu Serif").attr("font-size", 15.5).attr("fill", "#111")
    .text(p.title);

  g.selectAll("line.grid").data(yTicks.filter(d => d > 0)).join("line")
    .attr("class","grid")
    .attr("x1", x(0)).attr("x2", W).attr("y1", d => y(d)).attr("y2", d => y(d))
    .attr("stroke", "#919191").attr("stroke-width", 1.3);

  const line = d3.line().x(d => x(d[0])).y(d => y(d[1]));
  g.selectAll("path.s").data(p.series).join("path")
    .attr("class","s").attr("d", line)
    .attr("fill","none").attr("stroke","#000").attr("stroke-width",1.05)
    .attr("stroke-linejoin","round");

  const ya = d3.axisLeft(y).tickValues(yTicks).tickSize(6).tickSizeOuter(0).tickPadding(11);
  const yg = g.append("g").attr("transform", `translate(${x(0)},0)`).call(ya);
  yg.select(".domain").attr("stroke","#000").attr("stroke-width",1.5);
  yg.selectAll(".tick line").attr("stroke","#000").attr("stroke-width",1.3);
  yg.selectAll(".tick text").attr("font-family","Open Sans").attr("font-size",15).attr("fill","#222");

  const xa = d3.axisBottom(x).tickValues(monthStartDays).tickFormat((d,i) => months[i])
    .tickSize(6).tickSizeOuter(0).tickPadding(19.5);
  const xg = g.append("g").attr("transform", `translate(0,${y(0)})`).call(xa);
  xg.select(".domain").attr("stroke","#000").attr("stroke-width",1.8);
  xg.selectAll(".tick line").attr("stroke","#000").attr("stroke-width",1.3);
  xg.selectAll(".tick text").attr("font-family","Open Sans").attr("font-size",14.5).attr("fill","#222");

  const lab = g.append("text")
    .attr("transform", `translate(45,${p.labelCy}) rotate(-90)`)
    .attr("text-anchor","middle").attr("dominant-baseline","central")
    .attr("font-family","Noto Sans CJK JP").attr("font-weight",700).attr("font-size",16).attr("fill","#111");
  lab.append("tspan").text(yLabelMain);
  lab.append("tspan").attr("font-size",13).text(yLabelUnit);
  lab.append("tspan").text(")");
});
</script>
</body></html>
